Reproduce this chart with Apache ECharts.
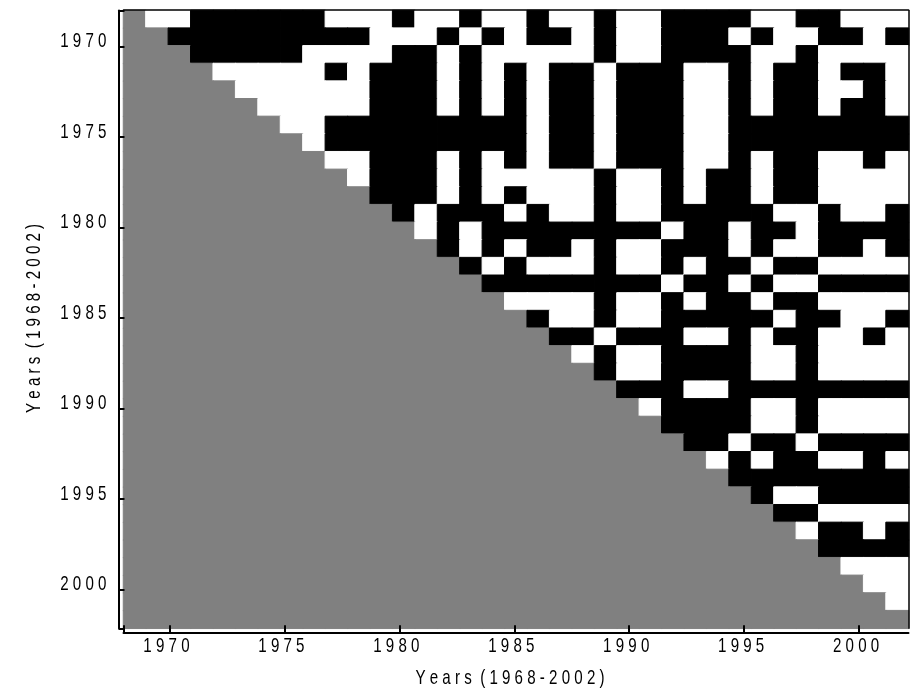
<!DOCTYPE html>
<html>
<head>
<meta charset="utf-8">
<script src="https://cdn.jsdelivr.net/npm/echarts@6/dist/echarts.min.js"></script>
<style>
html,body{margin:0;padding:0;background:#ffffff;}
#chart{width:915px;height:693px;}
</style>
</head>
<body>
<div id="chart"></div>
<script>
// Categories (one row / column per year)
const years = [1968,1969,1970,1971,1972,1973,1974,1975,1976,1977,1978,1979,1980,1981,1982,1983,1984,1985,
  1986,1987,1988,1989,1990,1991,1992,1993,1994,1995,1996,1997,1998,1999,2000,2001,2002];
// Tick labels
const tickYears = [1970,1975,1980,1985,1990,1995,2000];
const axisTitle = 'Y e a r s  ( 1 9 6 8 - 2 0 0 2 )';

// Upper triangle: row i holds the cells for columns i+1 .. 34 (1 = black, 0 = white)
const row1968 = [0,0,1,1,1,1,1,1,0,0,0,1,0,0,1,0,0,1,0,0,1,0,0,1,1,1,1,0,0,1,1,0,0,0];
const row1969 = [1,1,1,1,1,1,1,1,1,0,0,0,1,0,1,0,1,1,0,1,0,0,1,1,1,0,1,0,0,1,1,0,1];
const row1970 = [1,1,1,1,1,0,0,0,0,1,1,0,1,0,0,0,0,0,1,0,0,1,1,1,1,0,0,1,0,0,0,0];
const row1971 = [0,0,0,0,0,1,0,1,1,1,0,1,0,1,0,1,1,0,1,1,1,0,0,1,0,1,1,0,1,1,0];
const row1972 = [0,0,0,0,0,0,1,1,1,0,1,0,1,0,1,1,0,1,1,1,0,0,1,0,1,1,0,0,1,0];
const row1973 = [0,0,0,0,0,1,1,1,0,1,0,1,0,1,1,0,1,1,1,0,0,1,0,1,1,0,1,1,0];
const row1974 = [0,0,1,1,1,1,1,1,1,1,1,0,1,1,0,1,1,1,0,0,1,1,1,1,1,1,1,1];
const row1975 = [0,1,1,1,1,1,1,1,1,1,0,1,1,0,1,1,1,0,0,1,1,1,1,1,1,1,1];
const row1976 = [0,0,1,1,1,0,1,0,1,0,1,1,0,1,1,1,0,0,1,0,1,1,0,0,1,0];
const row1977 = [0,1,1,1,0,1,0,0,0,0,0,1,0,0,1,0,1,1,0,1,1,0,0,0,0];
const row1978 = [1,1,1,0,1,0,1,0,0,0,1,0,0,1,0,1,1,0,1,1,0,0,0,0];
const row1979 = [1,0,1,1,1,0,1,0,0,1,0,0,1,1,1,1,1,0,0,1,0,0,1];
const row1980 = [0,1,0,1,1,1,1,1,1,1,1,0,1,1,0,1,1,0,1,1,1,1];
const row1981 = [1,0,1,0,1,1,0,1,0,0,1,1,1,0,1,0,0,1,1,0,1];
const row1982 = [1,0,1,0,0,0,1,0,0,1,0,1,1,0,1,1,0,0,0,0];
const row1983 = [1,1,1,1,1,1,1,1,0,1,1,0,1,0,0,1,1,1,1];
const row1984 = [0,0,0,0,1,0,0,1,0,1,1,0,1,1,0,0,0,0];
const row1985 = [1,0,0,1,0,0,1,1,1,1,1,0,1,1,0,0,1];
const row1986 = [1,1,0,1,1,1,0,0,1,0,1,1,0,0,1,0];
const row1987 = [0,1,0,0,1,1,1,1,0,0,1,0,0,0,0];
const row1988 = [1,0,0,1,1,1,1,0,0,1,0,0,0,0];
const row1989 = [1,1,1,0,0,1,1,1,1,1,1,1,1];
const row1990 = [0,1,1,1,1,0,0,1,0,0,0,0];
const row1991 = [1,1,1,1,0,0,1,0,0,0,0];
const row1992 = [1,1,0,1,1,0,1,1,1,1];
const row1993 = [0,1,0,1,1,0,0,1,0];
const row1994 = [1,1,1,1,1,1,1,1];
const row1995 = [1,0,0,1,1,1,1];
const row1996 = [1,1,0,0,0,0];
const row1997 = [0,1,1,0,1];
const row1998 = [1,1,1,1];
const row1999 = [0,0,0];
const row2000 = [0,0];
const row2001 = [0];
const row2002 = [];

const upperRows = [row1968,row1969,row1970,row1971,row1972,row1973,row1974,row1975,row1976,row1977,
  row1978,row1979,row1980,row1981,row1982,row1983,row1984,row1985,row1986,row1987,row1988,row1989,
  row1990,row1991,row1992,row1993,row1994,row1995,row1996,row1997,row1998,row1999,row2000,row2001,row2002];

const NA = 2; // diagonal and lower triangle (not compared)
const palette = ['#ffffff', '#000000', '#808080']; // white, black, grey

const cells = [];
for (let i = 0; i < years.length; i++) {
  for (let j = 0; j < years.length; j++) {
    const v = j <= i ? NA : upperRows[i][j - i - 1];
    const c = palette[v];
    cells.push({value: [j, i, v], itemStyle: {color: c, borderColor: c, borderWidth: 1}});
  }
}

const FONT_FAMILY = '"Liberation Sans", Arial, sans-serif';
const FONT_SIZE = 21;
const SQUEEZE = 0.72;          // condensed lettering of the reference
const spaced = v => String(v).split('').join(' ');
const AX_MIN = 1968, AX_MAX = 2002.15;

const chart = echarts.init(document.getElementById('chart'), null, {renderer: 'canvas'});
chart.setOption({
  backgroundColor: '#ffffff',
  animation: false,
  grid: {left: 123.5, top: 10.5, right: 6.5, bottom: 64.7, containLabel: false},
  xAxis: [
    {type: 'category', data: years, show: false, position: 'bottom'},
    {
      type: 'value', position: 'bottom', min: AX_MIN, max: AX_MAX, offset: 4, z: 5,
      axisLine: {show: true, onZero: false, lineStyle: {color: '#000', width: 2}},
      axisTick: {show: true, inside: true, length: 7, lineStyle: {color: '#000', width: 2},
                 customValues: [AX_MIN].concat(tickYears)},
      axisLabel: {show: false},
      splitLine: {show: false}
    },
    {
      type: 'value', position: 'top', min: AX_MIN, max: AX_MAX, offset: 1, z: 5,
      axisLine: {show: true, onZero: false, lineStyle: {color: '#000', width: 1.5}},
      axisTick: {show: false}, axisLabel: {show: false}, splitLine: {show: false}
    }
  ],
  yAxis: [
    {type: 'category', data: years, show: false, inverse: true, position: 'left'},
    {
      type: 'value', position: 'left', inverse: true, min: AX_MIN, max: AX_MAX, offset: 5, z: 5,
      axisLine: {show: true, onZero: false, lineStyle: {color: '#000', width: 2}},
      axisTick: {show: true, inside: true, length: 6, lineStyle: {color: '#000', width: 2},
                 customValues: [AX_MIN].concat(tickYears, [AX_MAX])},
      axisLabel: {show: false},
      splitLine: {show: false}
    },
    {
      type: 'value', position: 'right', inverse: true, min: AX_MIN, max: AX_MAX, offset: 0, z: 5,
      axisLine: {show: true, onZero: false, lineStyle: {color: '#000', width: 1.5}},
      axisTick: {show: false}, axisLabel: {show: false}, splitLine: {show: false}
    }
  ],
  series: [{
    type: 'heatmap',
    xAxisIndex: 0, yAxisIndex: 0,
    data: cells,
    label: {show: false},
    emphasis: {disabled: true},
    silent: true
  }]
});

// Tick labels and axis titles as condensed real text, placed through the axes' own scales
const textStyle = (text, align) => ({
  text: text, fontFamily: FONT_FAMILY, fontSize: FONT_SIZE, fill: '#000',
  align: align, verticalAlign: 'middle'
});
const graphics = [];
tickYears.forEach(function (yr) {
  const px = chart.convertToPixel({xAxisIndex: 1}, yr);
  graphics.push({type: 'text', x: px - 3, y: 646, scaleX: SQUEEZE, silent: true,
                 style: textStyle(spaced(yr), 'center')});
  const py = chart.convertToPixel({yAxisIndex: 1}, yr);
  graphics.push({type: 'text', x: 106.5, y: py - 5, scaleX: SQUEEZE, silent: true,
                 style: textStyle(spaced(yr), 'right')});
});
const gridLeft = chart.convertToPixel({xAxisIndex: 1}, AX_MIN);
const gridRight = chart.convertToPixel({xAxisIndex: 1}, AX_MAX);
const gridTop = chart.convertToPixel({yAxisIndex: 1}, AX_MIN);
const gridBottom = chart.convertToPixel({yAxisIndex: 1}, AX_MAX);
graphics.push({type: 'text', x: (gridLeft + gridRight) / 2 - 6, y: 678, scaleX: SQUEEZE, silent: true,
               style: textStyle(axisTitle, 'center')});
graphics.push({type: 'text', x: 34, y: (gridTop + gridBottom) / 2 - 1, rotation: Math.PI / 2,
               scaleX: SQUEEZE, silent: true, style: textStyle(axisTitle, 'center')});
chart.setOption({graphic: {elements: graphics}});
</script>
</body>
</html>
